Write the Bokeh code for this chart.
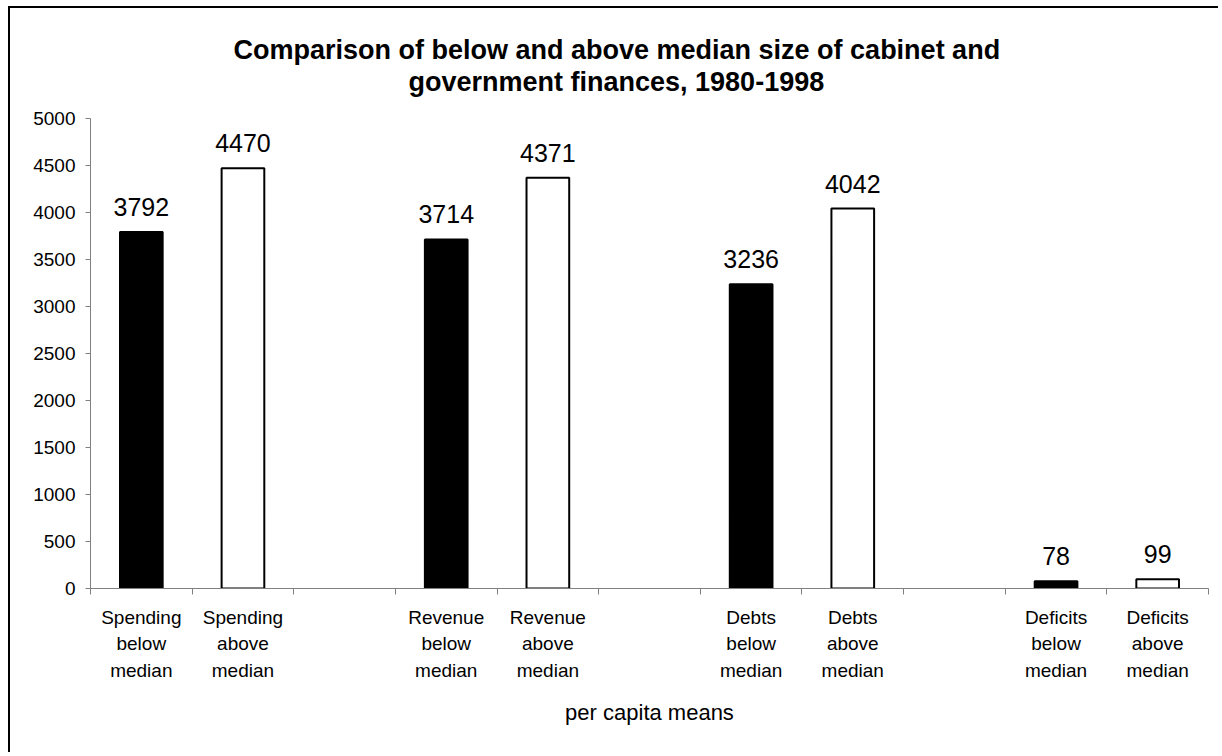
from bokeh.plotting import figure
from bokeh.models import FixedTicker, Title, Range1d, ColumnDataSource
from bokeh.core.properties import value
from bokeh.embed import file_html
from bokeh.resources import INLINE

# ---- data ----
categories = [
    "Spending\nbelow\nmedian", "Spending\nabove\nmedian", "",
    "Revenue\nbelow\nmedian", "Revenue\nabove\nmedian", "",
    "Debts\nbelow\nmedian", "Debts\nabove\nmedian", "",
    "Deficits\nbelow\nmedian", "Deficits\nabove\nmedian",
]
bar_categories = [
    "Spending\nbelow\nmedian", "Spending\nabove\nmedian",
    "Revenue\nbelow\nmedian", "Revenue\nabove\nmedian",
    "Debts\nbelow\nmedian", "Debts\nabove\nmedian",
    "Deficits\nbelow\nmedian", "Deficits\nabove\nmedian",
]
bar_values = [3792, 4470, 3714, 4371, 3236, 4042, 78, 99]
bar_group = ["below", "above", "below", "above", "below", "above", "below", "above"]
y_ticks = [0, 500, 1000, 1500, 2000, 2500, 3000, 3500, 4000, 4500, 5000]

title_line1 = "Comparison of below and above median size of cabinet and"
title_line2 = "government finances, 1980-1998"
x_title = "per capita means"

FONT = "Liberation Sans"

# positions of categories on a numeric axis (slot i spans [i, i+1])
pos = {c: i + 0.5 for i, c in enumerate(categories) if c}
xs = [pos[c] for c in bar_categories]
colors = ["black" if g == "below" else "white" for g in bar_group]
src = ColumnDataSource(dict(x=xs, top=bar_values, color=colors,
                            label=[str(v) for v in bar_values]))

p = figure(width=1210, height=746, output_backend="svg", toolbar_location=None,
           x_range=Range1d(0, len(categories)), y_range=Range1d(0, 5000),
           min_border_left=80, min_border_right=12, min_border_top=110,
           min_border_bottom=166)
p.styles = {"border-left": "2px solid black", "border-top": "2px solid black",
            "margin-left": "8px", "margin-top": "6px"}
p.outline_line_color = None
p.xgrid.visible = False
p.ygrid.visible = False
p.background_fill_color = "white"
p.border_fill_color = "white"

p.vbar(x="x", top="top", width=0.42, bottom=0, source=src,
       fill_color="color", line_color="black", line_width=2)
p.text(x="x", y="top", text="label", source=src, text_align="center",
       text_baseline="bottom", y_offset=-16, text_font_size="25px",
       text_font=value(FONT), text_color="black")

# titles: an empty spacer panel next to the frame, then the two title lines
spacer = Title(text=" ", text_font=FONT, text_font_size="10px", standoff=9)
t2 = Title(text=title_line2, align="left", text_font=FONT, text_color="black",
           text_font_size="27px", text_font_style="bold", offset=318, standoff=0)
t1 = Title(text=title_line1, align="left", text_font=FONT, text_color="black",
           text_font_size="27px", text_font_style="bold", offset=143, standoff=-1)
p.add_layout(spacer, "above")
p.add_layout(t2, "above")
p.add_layout(t1, "above")

# y axis
ya = p.yaxis[0]
ya.ticker = FixedTicker(ticks=y_ticks, minor_ticks=[])
ya.axis_line_color = "#808080"
ya.major_tick_line_color = "#808080"
ya.major_tick_out = 5
ya.major_tick_in = 0
ya.minor_tick_out = 0
ya.minor_tick_in = 0
ya.major_label_text_font = FONT
ya.major_label_text_font_size = "19px"
ya.major_label_text_color = "black"
ya.major_label_standoff = 10

# x axis: labels at slot centres, tick marks at slot boundaries
xa = p.xaxis[0]
centers = [i + 0.5 for i in range(len(categories))]
bounds = list(range(len(categories) + 1))
xa.ticker = FixedTicker(ticks=centers, minor_ticks=bounds)
xa.major_label_overrides = {c: lab for c, lab in zip(centers, categories)}
xa.axis_line_color = "#808080"
xa.major_tick_line_color = None
xa.major_tick_out = 0
xa.major_tick_in = 0
xa.minor_tick_line_color = "#808080"
xa.minor_tick_out = 6
xa.minor_tick_in = 0
xa.major_label_text_font = FONT
xa.major_label_text_font_size = "19px"
xa.major_label_text_line_height = 1.27
xa.major_label_text_color = "black"
xa.major_label_standoff = 12
xa.axis_label = x_title
xa.axis_label_text_font = FONT
xa.axis_label_text_font_size = "22px"
xa.axis_label_text_font_style = "normal"
xa.axis_label_text_color = "black"
xa.axis_label_standoff = 16

open("out.html", "w").write(file_html(p, INLINE))
